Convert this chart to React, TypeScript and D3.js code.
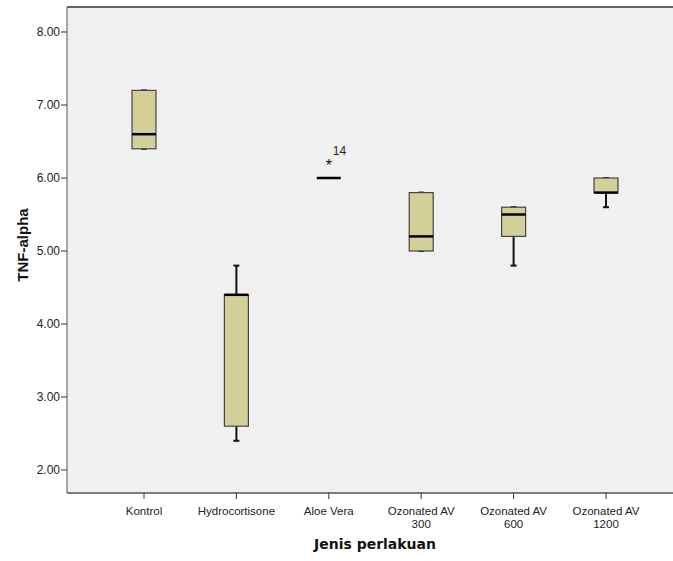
import React from "react";
import * as d3 from "d3";

// data
const groups = ["Kontrol", "Hydrocortisone", "Aloe Vera", "Ozonated AV\n300", "Ozonated AV\n600", "Ozonated AV\n1200"];
const mins = [6.4, 2.4, 6.0, 5.0, 4.8, 5.6];
const q1s = [6.4, 2.6, 6.0, 5.0, 5.2, 5.8];
const medians = [6.6, 4.4, 6.0, 5.2, 5.5, 5.8];
const q3s = [7.2, 4.4, 6.0, 5.8, 5.6, 6.0];
const maxs = [7.2, 4.8, 6.0, 5.8, 5.6, 6.0];
const outliers = [{ group: 2, value: 6.2, label: "14" }];
const yTicks = [2, 3, 4, 5, 6, 7, 8];

const width = 673;
const height = 561;
const left = 67;
const top = 7;
const right = 673;
const bottom = 493;

export default function App() {
    const scaleY = d3.scaleLinear().domain([2, 8]).range([470, 32]);
    const scaleX = d3.scalePoint<number>()
        .domain(groups.map((_, i) => i))
        .range([144, 606]);

    const boxW = 24;
    const capW = 6;
    const fill = "#d3cf98";

    return (
        <svg width={width} height={height} style={{ position: "absolute", left: 0, top: 0 }}
            fontFamily="'Liberation Sans', Arial, sans-serif">
            <rect x={0} y={0} width={width} height={height} fill="#ffffff" />
            <rect x={left} y={top} width={right - left} height={bottom - top} fill="#f0f0f0" />
            <line x1={left} x2={right} y1={top} y2={top} stroke="#333" strokeWidth={1.5} />
            <line x1={left} x2={left} y1={top} y2={bottom} stroke="#555" strokeWidth={1} />
            <line x1={left} x2={right} y1={bottom} y2={bottom} stroke="#555" strokeWidth={1.5} />

            {yTicks.map(t => (
                <g key={t}>
                    <line x1={left - 6} x2={left} y1={scaleY(t)} y2={scaleY(t)} stroke="#333" />
                    <text x={left - 7} y={scaleY(t)} dy="0.35em" textAnchor="end" fontSize={12} fill="#222">
                        {t.toFixed(2)}
                    </text>
                </g>
            ))}

            {groups.map((g, i) => {
                const cx = scaleX(i) as number;
                const lines = g.split("\n");
                return (
                    <g key={g}>
                        <line x1={cx} x2={cx} y1={bottom} y2={bottom + 6} stroke="#333" />
                        <text x={cx} y={bottom + 22} textAnchor="middle" fontSize={11.5} fill="#222">
                            {lines.map((l, j) => (
                                <tspan key={j} x={cx} dy={j === 0 ? 0 : 13}>{l}</tspan>
                            ))}
                        </text>
                    </g>
                );
            })}

            {groups.map((g, i) => {
                const cx = scaleX(i) as number;
                const yQ1 = scaleY(q1s[i]);
                const yQ3 = scaleY(q3s[i]);
                return (
                    <g key={"box" + i}>
                        <line x1={cx} x2={cx} y1={scaleY(maxs[i])} y2={yQ3} stroke="#111" strokeWidth={2} />
                        <line x1={cx} x2={cx} y1={yQ1} y2={scaleY(mins[i])} stroke="#111" strokeWidth={2} />
                        <line x1={cx - capW / 2} x2={cx + capW / 2} y1={scaleY(maxs[i])} y2={scaleY(maxs[i])} stroke="#111" strokeWidth={2} />
                        <line x1={cx - capW / 2} x2={cx + capW / 2} y1={scaleY(mins[i])} y2={scaleY(mins[i])} stroke="#111" strokeWidth={2} />
                        {yQ1 - yQ3 > 0 && (
                            <rect x={cx - boxW / 2} y={yQ3} width={boxW} height={yQ1 - yQ3}
                                fill={fill} stroke="#444" strokeWidth={1.2} />
                        )}
                        <line x1={cx - boxW / 2} x2={cx + boxW / 2} y1={scaleY(medians[i])} y2={scaleY(medians[i])}
                            stroke="#000" strokeWidth={2.5} />
                    </g>
                );
            })}

            {outliers.map(o => {
                const cx = scaleX(o.group) as number;
                const cy = scaleY(o.value);
                return (
                    <g key={o.label}>
                        <text x={cx} y={cy + 8} textAnchor="middle" fontSize={16} fill="#111">*</text>
                        <text x={cx + 4} y={cy - 8} fontSize={12} fill="#222">{o.label}</text>
                    </g>
                );
            })}

            <text transform={`translate(28,245) rotate(-90)`} textAnchor="middle"
                fontSize={15} fontWeight="bold" fill="#111">TNF-alpha</text>
            <text x={375} y={549} textAnchor="middle" fontSize={14} fontWeight="bold" fill="#111"
                fontFamily="'DejaVu Sans', sans-serif">Jenis perlakuan</text>
        </svg>
    );
}
